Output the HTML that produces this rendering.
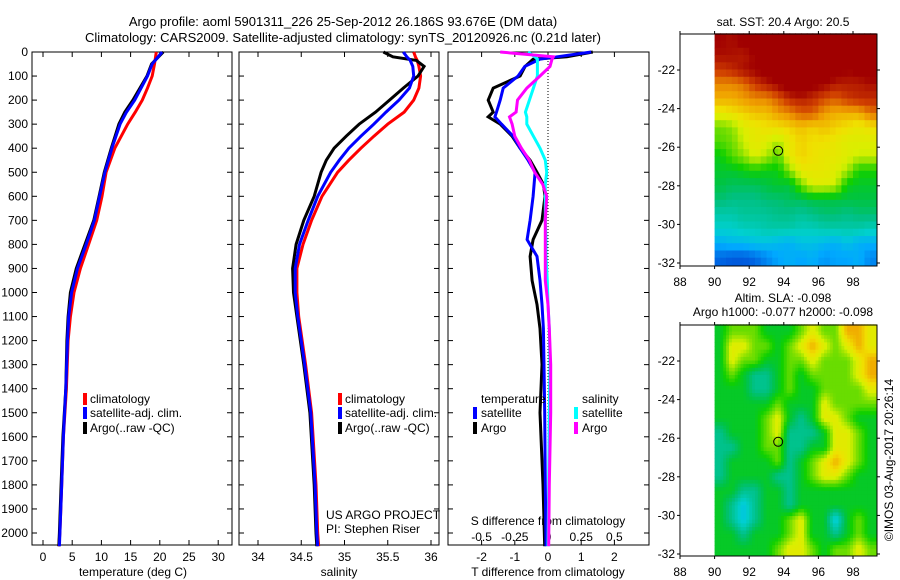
<!DOCTYPE html>
<html><head><meta charset="utf-8">
<style>
body{margin:0;background:#fff;}
svg{display:block;font-family:"Liberation Sans",sans-serif;font-size:12px;}
</style></head>
<body>
<svg id="c" width="900" height="580" viewBox="0 0 900 580">
<text x="343" y="26" text-anchor="middle" font-size="13">Argo profile: aoml 5901311_226 25-Sep-2012 26.186S 93.676E (DM data)</text>
<text x="343" y="42" text-anchor="middle" font-size="13">Climatology: CARS2009. Satellite-adjusted climatology: synTS_20120926.nc (0.21d later)</text>
</svg>
<script>
// ---------- data ----------
const tDepth = [0,50,100,150,200,250,300,400,500,600,700,800,900,1000,1100,1200,1400,1600,1800,2000,2055];
const tClim  = [19.4,19.1,18.7,17.9,17.0,15.8,14.5,12.3,10.8,10.1,9.2,7.8,6.4,5.3,4.7,4.3,4.0,3.5,3.2,2.9,2.7];
const tSat   = [20.4,18.7,17.9,16.8,15.7,14.3,13.2,11.8,10.6,9.7,8.8,7.4,5.9,4.9,4.4,4.2,3.9,3.5,3.2,2.9,2.8];
const tArgo  = [20.6,18.6,17.8,16.6,15.4,14.0,13.0,11.7,10.5,9.6,8.7,7.2,5.7,4.7,4.3,4.1,3.9,3.4,3.1,2.8,2.7];
const sDepth = [0,20,35,60,100,150,200,250,300,350,400,450,500,600,700,800,900,1000,1100,1300,1500,1800,2000,2055];
const sClim  = [35.80,35.82,35.84,35.86,35.88,35.86,35.80,35.69,35.50,35.34,35.19,35.05,34.92,34.74,34.62,34.52,34.45,34.45,34.47,34.55,34.62,34.67,34.69,34.70];
const sSat   = [35.68,35.72,35.76,35.79,35.80,35.75,35.63,35.48,35.34,35.19,35.05,34.94,34.84,34.69,34.58,34.48,34.43,34.43,34.46,34.54,34.61,34.66,34.68,34.69];
const sArgo  = [35.45,35.56,35.83,35.92,35.85,35.68,35.52,35.36,35.17,35.02,34.88,34.79,34.73,34.65,34.53,34.44,34.40,34.41,34.45,34.53,34.60,34.65,34.67,34.68];
const dDepth = [0,20,30,60,100,150,200,250,270,300,350,400,450,500,550,600,700,780,850,950,1050,1150,1300,1500,1800,2055];
const dTSat  = [1.3,0.27,-0.24,-0.7,-0.9,-1.35,-1.44,-1.55,-1.6,-1.4,-1.05,-0.84,-0.6,-0.39,-0.42,-0.45,-0.54,-0.63,-0.33,-0.24,-0.18,-0.14,-0.12,-0.1,-0.08,-0.06];
const dTArgo = [1.35,0.57,-0.45,-0.69,-0.84,-1.65,-1.8,-1.65,-1.8,-1.44,-1.08,-0.84,-0.54,-0.33,-0.14,-0.09,-0.18,-0.45,-0.54,-0.48,-0.33,-0.24,-0.18,-0.24,-0.15,-0.1];
const dSSat  = [-0.15,-0.1,-0.08,-0.08,-0.08,-0.11,-0.14,-0.17,-0.16,-0.16,-0.11,-0.06,-0.02,-0.01,-0.02,-0.02,-0.02,-0.015,-0.015,-0.005,0.0,0.01,0.015,0.01,0.005,0.0];
const dSArgo = [-0.36,0.04,0.03,0.015,-0.06,-0.16,-0.23,-0.24,-0.29,-0.27,-0.25,-0.2,-0.14,-0.1,-0.04,-0.01,-0.02,-0.02,-0.02,-0.02,0.0,0.01,0.02,0.02,0.01,0.005];
const depthTicks = [0,100,200,300,400,500,600,700,800,900,1000,1100,1200,1300,1400,1500,1600,1700,1800,1900,2000];
const tempTicks = [0,5,10,15,20,25,30];
const salTicks = [34,34.5,35,35.5,36];
const salTickLabels = ["34","34.5","35","35.5","36"];
const dTTicks = [-2,-1,0,1,2];
const dSTicks = [-0.5,-0.25,0,0.25,0.5];
const dSTickLabels = ["-0.5","-0.25","0","0.25","0.5"];
const lonTicks = [88,90,92,94,96,98];
const latTicks = [-22,-24,-26,-28,-30,-32];
const sst = [
[22.6,22.5,22.7,22.8,23,23,23,23,23,23,23,23,23,23],
[22.5,22.5,22.4,22.6,22.9,23,23,23,23,23,23,22.8,22.7,23],
[22.2,22.3,22.5,22.6,22.8,22.9,23,23,23,23,22.8,22.6,22.7,22.8],
[21.8,21.8,21.9,22.2,22.4,22.6,22.9,23,22.7,22.6,22.4,22.4,22.4,22.5],
[21.6,21.6,21.7,21.8,21.8,22,22.3,22.4,22.3,22.1,22.0,22.2,22.3,22.3],
[21.2,21.3,21.4,21.5,21.5,21.7,21.8,22.0,22.0,21.7,21.6,21.6,21.6,21.9],
[20.7,20.8,21.1,21.2,21.3,21.3,21.4,21.5,21.4,21.5,21.4,21.3,21.2,21.3],
[20.6,20.7,21.0,21.2,21.1,20.9,21.2,21.4,21.3,21.3,21.2,21.1,21.1,21.1],
[20.3,20.6,20.8,21.1,20.9,20.6,21.2,21.4,21.3,21.2,21.2,21.1,21.0,21.0],
[20.2,20.2,20.3,20.4,20.3,20.3,20.8,21.2,21.2,21.2,21.1,20.9,20.4,20.4],
[20.1,20.0,20.0,20.0,20.1,20.2,20.1,20.7,21.1,21.1,21.0,20.3,20.2,20.2],
[19.9,19.8,19.8,19.8,19.9,19.9,20.0,20.0,20.1,20.1,20.1,20.1,20.1,20.1],
[19.6,19.6,19.7,19.7,19.7,19.8,19.8,19.7,19.8,19.9,19.9,19.8,19.9,19.9],
[19.4,19.4,19.5,19.5,19.6,19.6,19.6,19.5,19.5,19.6,19.6,19.6,19.6,19.5],
[19.0,19.1,19.1,19.2,19.2,19.1,19.0,19.2,19.2,19.1,19.0,19.2,19.0,19.0],
[18.5,18.4,18.4,18.5,18.7,18.9,19.0,18.9,19.0,18.8,18.9,18.9,19.0,18.7]];
const slaCodes = [
"GLLLGGGLYLLOOY","GYYLLGLYOYLYOY","GYLLGGLLYLLLYO","GLGTTGLGLLLLYO",
"GGGTTGLGGLLLLY","GGGGGLGGGYLLLL","GGGGLYGTGYYLGG","TGGGLYTTTGYYLG",
"TTGGLLTTGGYYLG","TGGGGLTGLYOYLG","TGGGGTTGLYYLGG","GGTTGGTGGGGGGG",
"GTCTGGTGGGGGGG","GTCTGGLYGGCGLG","GGTGGGLYGGTGLG","GGGGGLYYLGLLYL"];
const slaLevels = {C:-0.12,T:-0.085,G:-0.055,L:-0.025,Y:0.005,O:0.035};
const argoLon = 93.676, argoLat = -26.186;

// ---------- helpers ----------
const NS="http://www.w3.org/2000/svg";
const svg=document.getElementById('c');
function mk(tag,attrs,parent){const e=document.createElementNS(NS,tag);for(const k in attrs)e.setAttribute(k,attrs[k]);(parent||svg).appendChild(e);return e;}
function txt(x,y,s,anchor,parent,size){const t=mk('text',{x:x,y:y,'text-anchor':anchor||'start'},parent);if(size)t.setAttribute('font-size',size);t.textContent=s;return t;}
const TOP=52,BOT=545;
const yD=d=>TOP+d*0.2405;
const xT=v=>43+v*5.84;
const xS=v=>258+(v-34)*86.5;
const xdT=v=>548+v*33.2;
const xdS=v=>548+v*132.8;

function panel(x0,x1,name){
  const g=mk('g',{});
  
  
  mk('rect',{x:x0,y:TOP,width:x1-x0,height:BOT-TOP,fill:'none',stroke:'#000','stroke-width':1},g);
  depthTicks.forEach(d=>{const y=yD(d);
    mk('line',{x1:x0,x2:x0+5,y1:y,y2:y,stroke:'#000'},g);
    mk('line',{x1:x1-5,x2:x1,y1:y,y2:y,stroke:'#000'},g);});
  return g;
}
function series(g,depths,vals,xf,color,name){
  let d='';depths.forEach((dd,i)=>{d+=(i?'L':'M')+xf(vals[i]).toFixed(1)+','+yD(dd).toFixed(1);});
  const p=mk('path',{d:d,fill:'none',stroke:color,'stroke-width':3,'stroke-linejoin':'miter'},g);
  
  
}
function legendBar(g,x,y,color){mk('rect',{x:x,y:y-10,width:4,height:12,fill:color},g);}

// ---------- panel 1 temperature ----------
const p1=panel(32,232,'temperature-panel');
depthTicks.forEach(d=>{const t=txt(28,yD(d)+4,String(d),'end',p1);});
tempTicks.forEach(v=>{const x=xT(v);mk('line',{x1:x,x2:x,y1:TOP,y2:TOP+5,stroke:'#000'},p1);mk('line',{x1:x,x2:x,y1:BOT-5,y2:BOT,stroke:'#000'},p1);
  const t=txt(x,561,String(v),'middle',p1);});
txt(133,576,'temperature (deg C)','middle',p1);
series(p1,tDepth,tClim,xT,'#ff0000','temp-climatology-line');
series(p1,tDepth,tArgo,xT,'#000000','temp-argo-line');
series(p1,tDepth,tSat,xT,'#0000ff','temp-satellite-line');
const lg1=mk('g',{},p1);
legendBar(lg1,83,403,'#ff0000');txt(90,403,'climatology','start',lg1);
legendBar(lg1,83,417,'#0000ff');txt(90,417,'satellite-adj. clim.','start',lg1);
legendBar(lg1,83,432,'#000');txt(90,432,'Argo(..raw -QC)','start',lg1);

// ---------- panel 2 salinity ----------
const p2=panel(239,439,'salinity-panel');
salTicks.forEach((v,i)=>{const x=xS(v);mk('line',{x1:x,x2:x,y1:TOP,y2:TOP+5,stroke:'#000'},p2);mk('line',{x1:x,x2:x,y1:BOT-5,y2:BOT,stroke:'#000'},p2);
  const t=txt(x,561,salTickLabels[i],'middle',p2);});
txt(339,576,'salinity','middle',p2);
series(p2,sDepth,sClim,xS,'#ff0000','sal-climatology-line');
series(p2,sDepth,sArgo,xS,'#000000','sal-argo-line');
series(p2,sDepth,sSat,xS,'#0000ff','sal-satellite-line');
const lg2=mk('g',{},p2);
legendBar(lg2,338,403,'#ff0000');txt(345,403,'climatology','start',lg2);
legendBar(lg2,338,417,'#0000ff');txt(345,417,'satellite-adj. clim.','start',lg2);
legendBar(lg2,338,432,'#000');txt(345,432,'Argo(..raw -QC)','start',lg2);
txt(326,519,'US ARGO PROJECT','start',p2);
txt(326,533,'PI: Stephen Riser','start',p2);

// ---------- panel 3 differences ----------
const p3=panel(448,649,'difference-panel');
mk('line',{x1:548,x2:548,y1:TOP,y2:BOT,stroke:'#000','stroke-dasharray':'1,2'},p3);
dTTicks.forEach(v=>{const x=xdT(v);mk('line',{x1:x,x2:x,y1:TOP,y2:TOP+5,stroke:'#000'},p3);mk('line',{x1:x,x2:x,y1:BOT-5,y2:BOT,stroke:'#000'},p3);
  const t=txt(x,561,String(v),'middle',p3);});
dSTicks.forEach((v,i)=>{const t=txt(xdS(v),541,dSTickLabels[i],'middle',p3);});
txt(548,525,'S difference from climatology','middle',p3);
txt(548,576,'T difference from climatology','middle',p3);
series(p3,dDepth,dTArgo,xdT,'#000000','t-diff-argo-line');
series(p3,dDepth,dTSat,xdT,'#0000ff','t-diff-satellite-line');
series(p3,dDepth,dSSat,xdS,'#00ffff','s-diff-satellite-line');
series(p3,dDepth,dSArgo,xdS,'#ff00ff','s-diff-argo-line');
const lg3=mk('g',{},p3);
txt(481,403,'temperature','start',lg3);txt(582,403,'salinity','start',lg3);
legendBar(lg3,473,417,'#0000ff');txt(481,417,'satellite','start',lg3);
legendBar(lg3,473,432,'#000');txt(481,432,'Argo','start',lg3);
legendBar(lg3,574,417,'#00ffff');txt(582,417,'satellite','start',lg3);
legendBar(lg3,574,432,'#ff00ff');txt(582,432,'Argo','start',lg3);

// ---------- maps ----------
const cmapStops=[[0,[0,48,192]],[0.1,[0,96,224]],[0.2,[0,168,255]],[0.3,[0,208,208]],[0.4,[0,192,128]],[0.46,[0,196,64]],[0.52,[16,208,0]],[0.6,[128,224,0]],[0.66,[216,240,0]],[0.72,[240,224,0]],[0.8,[240,160,0]],[0.9,[208,64,0]],[1,[160,0,0]]];
function cmap(t){t=Math.max(0,Math.min(1,t));for(let i=1;i<cmapStops.length;i++){if(t<=cmapStops[i][0]){const a=cmapStops[i-1],b=cmapStops[i];const f=(t-a[0])/(b[0]-a[0]);const c=a[1].map((v,k)=>Math.round(v+(b[1][k]-v)*f));return 'rgb('+c.join(',')+')';}}return 'rgb(160,0,0)';}
const mX=lon=>680+(lon-88)*17.3;
function upsample(grid,f){
  const nr=grid.length,nc=grid[0].length,out=[];
  for(let r=0;r<nr*f;r++){const row=[];const gy=Math.min(nr-1,Math.max(0,(r+0.5)/f-0.5));const y0=Math.floor(gy),y1=Math.min(nr-1,y0+1),fy=gy-y0;
    for(let c=0;c<nc*f;c++){const gx=Math.min(nc-1,Math.max(0,(c+0.5)/f-0.5));const x0=Math.floor(gx),x1=Math.min(nc-1,x0+1),fx=gx-x0;
      row.push(grid[y0][x0]*(1-fx)*(1-fy)+grid[y0][x1]*fx*(1-fy)+grid[y1][x0]*(1-fx)*fy+grid[y1][x1]*fx*fy);}
    out.push(row);}
  return out;
}
function drawMap(top,bot,yLat,grid,norm,name){
  const g=mk('g',{});
  
  
  const lat0=-20.1,lat1=-32.1,lon0=90,lon1=99.33;
  const nr=grid.length,nc=grid[0].length;
  for(let r=0;r<nr;r++)for(let c=0;c<nc;c++){
    const la=lat0+(lat1-lat0)*r/nr,lb=lat0+(lat1-lat0)*(r+1)/nr;
    const xa=mX(lon0+(lon1-lon0)*c/nc),xb=mX(lon0+(lon1-lon0)*(c+1)/nc);
    const cell=mk('rect',{x:xa.toFixed(1),y:yLat(la).toFixed(1),width:(xb-xa+0.6).toFixed(1),height:(yLat(lb)-yLat(la)+0.6).toFixed(1),fill:cmap(norm(grid[r][c]))},g);
    
    
  }
  mk('rect',{x:680,y:top,width:197,height:bot-top,fill:'none',stroke:'#000'},g);
  lonTicks.forEach(v=>{const x=mX(v);mk('line',{x1:x,x2:x,y1:top-3,y2:top,stroke:'#000'},g);mk('line',{x1:x,x2:x,y1:bot,y2:bot+3,stroke:'#000'},g);txt(x,bot+20,String(v),'middle',g);});
  latTicks.forEach(v=>{const y=yLat(v);mk('line',{x1:677,x2:680,y1:y,y2:y,stroke:'#000'},g);mk('line',{x1:877,x2:880,y1:y,y2:y,stroke:'#000'},g);txt(675,y+4,String(v),'end',g);});
  const m=mk('circle',{cx:mX(argoLon),cy:yLat(argoLat),r:4.5,fill:'none',stroke:'#000'},g);
  
  
}
drawMap(34,266,la=>70+(-22-la)*19.3,upsample(sst,2),v=>(v-18)/4.6,'sst-map');
const slaGrid=slaCodes.map(row=>row.split('').map(ch=>slaLevels[ch]));
drawMap(325,556,la=>361+(-22-la)*19.3,upsample(slaGrid,4),v=>(v+0.2)/0.3,'sla-map');
txt(783,26,'sat. SST: 20.4  Argo: 20.5','middle');
txt(783,302,'Altim. SLA: -0.098','middle');
txt(783,316,'Argo h1000: -0.077 h2000: -0.098','middle');
const cr=txt(0,0,'©IMOS 03-Aug-2017 20:26:14','middle');
cr.setAttribute('transform','translate(893,460) rotate(-90)');


</script>
</body></html>
